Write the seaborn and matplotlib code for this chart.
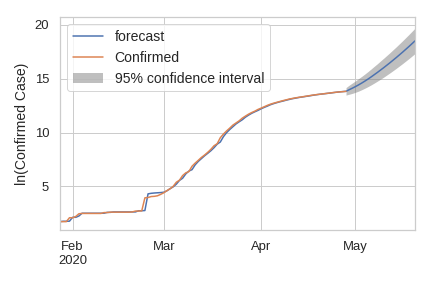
import numpy as np
import pandas as pd
import matplotlib
matplotlib.use("Agg")
import matplotlib.pyplot as plt
import matplotlib.dates as mdates
from matplotlib.ticker import FuncFormatter
import seaborn as sns

# ---- data ----
confirmed_start = "2020-01-28"
confirmed = [
    1.72, 1.72, 1.72, 2.08,                                   # Jan 28-31
    2.08, 2.20, 2.45, 2.48, 2.48, 2.48, 2.48, 2.48, 2.48, 2.48,  # Feb 1-10
    2.56, 2.56, 2.60, 2.60, 2.60, 2.60, 2.60, 2.60, 2.60, 2.62,  # Feb 11-20
    2.70, 2.70, 2.72, 3.93, 3.96, 4.05, 4.07, 4.12, 4.25,        # Feb 21-29
    4.40, 4.60, 4.77, 5.00, 5.38, 5.57, 6.00, 6.25, 6.37, 6.87,  # Mar 1-10
    7.16, 7.42, 7.69, 7.91, 8.16, 8.44, 8.77, 8.96, 9.52, 9.86,  # Mar 11-20
    10.15, 10.41, 10.69, 10.89, 11.09, 11.34, 11.53, 11.71, 11.86, 11.99, 12.15,  # Mar 21-31
    12.27, 12.40, 12.53, 12.64, 12.73, 12.81, 12.89, 12.97, 13.04, 13.12,  # Apr 1-10
    13.17, 13.23, 13.27, 13.32, 13.36, 13.41, 13.46, 13.50, 13.54, 13.57,  # Apr 11-20
    13.61, 13.64, 13.68, 13.72, 13.75, 13.78, 13.80, 13.83,              # Apr 21-28
]

forecast_start = "2020-01-28"
forecast = [
    1.72, 1.75, 1.75, 1.76,                                   # Jan 28-31
    2.12, 2.12, 2.24, 2.50, 2.50, 2.50, 2.50, 2.50, 2.50, 2.50,  # Feb 1-10
    2.50, 2.58, 2.58, 2.62, 2.62, 2.62, 2.62, 2.62, 2.62, 2.62,  # Feb 11-20
    2.62, 2.73, 2.73, 2.75, 4.30, 4.35, 4.38, 4.40, 4.42,        # Feb 21-29
    4.45, 4.58, 4.78, 4.95, 5.20, 5.55, 5.75, 6.15, 6.42, 6.55,  # Mar 1-10
    7.00, 7.32, 7.58, 7.84, 8.07, 8.31, 8.59, 8.92, 9.12, 9.62,  # Mar 11-20
    9.99, 10.28, 10.54, 10.80, 11.00, 11.19, 11.43, 11.62, 11.79, 11.93, 12.06,  # Mar 21-31
    12.21, 12.34, 12.46, 12.59, 12.69, 12.78, 12.86, 12.93, 13.01, 13.08,  # Apr 1-10
    13.15, 13.20, 13.26, 13.30, 13.35, 13.39, 13.44, 13.49, 13.53, 13.57,  # Apr 11-20
    13.60, 13.64, 13.67, 13.71, 13.75, 13.78, 13.81, 13.83,              # Apr 21-28
    13.98, 14.12,                                                        # Apr 29-30
    14.27, 14.43, 14.60, 14.78, 14.97, 15.17, 15.38, 15.59, 15.81, 16.03,  # May 1-10
    16.26, 16.49, 16.73, 16.97, 17.22, 17.47, 17.73, 17.99, 18.26, 18.53,  # May 11-20
]

ci_start = "2020-04-28"
ci_upper = [14.18, 14.40, 14.60, 14.80, 15.01, 15.22, 15.44, 15.67, 15.91, 16.16,
            16.40, 16.66, 16.91, 17.17, 17.43, 17.70, 17.97, 18.25, 18.53, 18.82,
            19.11, 19.41, 19.71]
ci_lower = [13.48, 13.56, 13.64, 13.74, 13.85, 13.98, 14.12, 14.27, 14.43, 14.60,
            14.78, 14.96, 15.15, 15.35, 15.55, 15.76, 15.97, 16.19, 16.41, 16.64,
            16.87, 17.11, 17.35]

# ---- build frames ----
df_conf = pd.DataFrame({"date": pd.date_range(confirmed_start, periods=len(confirmed), freq="D"),
                        "value": confirmed})
df_fc = pd.DataFrame({"date": pd.date_range(forecast_start, periods=len(forecast), freq="D"),
                      "value": forecast})
ci_dates = pd.date_range(ci_start, periods=len(ci_upper), freq="D")

sns.set_theme(style="whitegrid")
plt.rcParams["font.family"] = ["Liberation Sans", "DejaVu Sans"]

fig, ax = plt.subplots(figsize=(6, 4), dpi=72)
fig.subplots_adjust(left=0.139, right=0.961, top=0.941, bottom=0.201)

blue, orange = sns.color_palette("deep")[0], sns.color_palette("deep")[1]

sns.lineplot(data=df_fc, x="date", y="value", ax=ax, color=blue, label="forecast", linewidth=1.5)
sns.lineplot(data=df_conf, x="date", y="value", ax=ax, color=orange, label="Confirmed", linewidth=1.5)
ax.fill_between(ci_dates, ci_lower, ci_upper, color="gray", alpha=0.5,
                label="95% confidence interval", linewidth=0)

ax.set_xlim(df_fc["date"].iloc[0], df_fc["date"].iloc[-1])
ax.set_ylim(0.93, 20.74)
ax.set_yticks([5, 10, 15, 20])

ax.xaxis.set_major_locator(mdates.MonthLocator())

def fmt(x, pos):
    d = mdates.num2date(x)
    if d.month == 2:
        return d.strftime("%b") + "\n" + d.strftime("%Y")
    return d.strftime("%b")

ax.xaxis.set_major_formatter(FuncFormatter(fmt))
ax.set_xlabel("")
ax.set_ylabel("ln(Confirmed Case)", fontsize=14, labelpad=6)
ax.tick_params(labelsize=13, pad=5)

ax.legend(loc="upper left", fontsize=14, handlelength=2.2)

fig.savefig("out.png", dpi=72)
